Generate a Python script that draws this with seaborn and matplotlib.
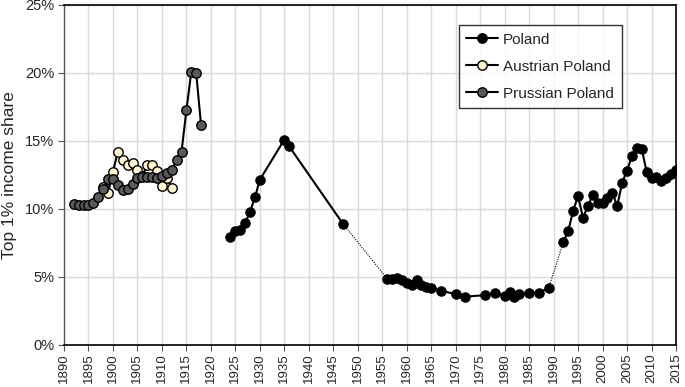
import matplotlib
matplotlib.use("Agg")
import matplotlib.pyplot as plt
import seaborn as sns
import numpy as np
import pandas as pd
from matplotlib.lines import Line2D

# Poland (solid runs; gaps 1947-1956 and 1989-1992 drawn dotted)
pol_years = [1924, 1925, 1926, 1927, 1928, 1929, 1930, 1935, 1936, 1947,
             1956, 1957, 1958, 1959, 1960, 1961, 1962, 1963, 1964, 1965,
             1967, 1970, 1972, 1976, 1978, 1980, 1981, 1982, 1983, 1985,
             1987, 1989,
             1992, 1993, 1994, 1995, 1996, 1997, 1998, 1999, 2000, 2001,
             2002, 2003, 2004, 2005, 2006, 2007, 2008, 2009, 2010, 2011,
             2012, 2013, 2014, 2015]
pol_vals = [7.96, 8.4, 8.46, 8.95, 9.8, 10.85, 12.15, 15.1, 14.6, 8.9,
            4.88, 4.88, 4.92, 4.8, 4.54, 4.42, 4.78, 4.4, 4.28, 4.22,
            3.99, 3.74, 3.56, 3.66, 3.82, 3.62, 3.92, 3.5, 3.72, 3.82,
            3.85, 4.2,
            7.58, 8.4, 9.88, 10.96, 9.35, 10.22, 11.03, 10.42, 10.42, 10.78,
            11.2, 10.22, 11.94, 12.82, 13.9, 14.46, 14.4, 12.75, 12.3, 12.38,
            12.08, 12.25, 12.55, 12.87]
pol_runs = [0] * 10 + [1] * 22 + [2] * 24

aus_years = [1898, 1899, 1900, 1901, 1902, 1903, 1904, 1905, 1906, 1907,
             1908, 1909, 1910, 1911, 1912]
aus_vals = [11.64, 11.2, 12.75, 14.2, 13.6, 13.24, 13.36, 12.87, 12.4, 13.25,
            13.25, 12.8, 11.69, 12.25, 11.57]

pru_years = list(range(1892, 1919))
pru_vals = [10.37, 10.27, 10.27, 10.32, 10.47, 10.9, 11.45, 12.18, 12.18, 11.76,
            11.4, 11.45, 11.84, 12.3, 12.35, 12.35, 12.35, 12.3, 12.43, 12.62,
            12.9, 13.6, 14.2, 17.25, 20.1, 20.0, 16.15]

pol = pd.DataFrame({"year": pol_years, "share": pol_vals, "run": pol_runs})
aus = pd.DataFrame({"year": aus_years, "share": aus_vals})
pru = pd.DataFrame({"year": pru_years, "share": pru_vals})

sns.set_style("white")
plt.rcParams["font.family"] = ["Liberation Sans", "DejaVu Sans"]

fig = plt.figure(figsize=(6.85, 3.87), dpi=100)
ax = fig.add_axes([64 / 685, 1 - 345 / 387, 612 / 685, 340 / 387])

ms = 6.8
# dotted links across the missing years
for a, b in [(1947, 1956), (1989, 1992)]:
    seg = pol[pol.year.isin([a, b])]
    sns.lineplot(data=seg, x="year", y="share", ax=ax, color="black",
                 linestyle=(0, (1, 1.2)), linewidth=0.8, legend=False)

sns.lineplot(data=pol, x="year", y="share", units="run", estimator=None, ax=ax,
             color="black", linewidth=1.5, marker="o", markersize=ms,
             markerfacecolor="black", markeredgecolor="black", legend=False)
sns.lineplot(data=aus, x="year", y="share", ax=ax, color="black", linewidth=1.5,
             marker="o", markersize=ms, markerfacecolor="#fff5d2",
             markeredgecolor="black", markeredgewidth=1.0, legend=False)
sns.lineplot(data=pru, x="year", y="share", ax=ax, color="black", linewidth=1.5,
             marker="o", markersize=ms, markerfacecolor="#595959",
             markeredgecolor="black", markeredgewidth=1.0, legend=False)

ax.set_xlim(1890, 2015)
ax.set_ylim(0, 25)
ax.set_xticks(range(1890, 2016, 5))
ax.set_xticklabels([str(y) for y in range(1890, 2016, 5)], rotation=90, fontsize=9.5)
ax.set_yticks(range(0, 26, 5))
ax.set_yticklabels([f"{v}%" for v in range(0, 26, 5)], fontsize=10.5)
ax.set_xlabel("")
ax.set_ylabel("Top 1% income share", fontsize=12.5, labelpad=6)
ax.grid(True, color="#d9d9d9", linewidth=1)
ax.set_axisbelow(True)
ax.tick_params(axis="both", direction="out", length=4, width=0.8, color="#555555",
               bottom=True, left=True)
ax.tick_params(axis="x", pad=2)
ax.tick_params(axis="y", pad=3)

for side in ["top", "right", "bottom"]:
    ax.spines[side].set_color("black")
    ax.spines[side].set_linewidth(1.2)
ax.spines["left"].set_color("#555555")
ax.spines["left"].set_linestyle((0, (1, 1)))
ax.spines["left"].set_linewidth(1.0)

handles = [
    Line2D([], [], color="black", lw=1.5, marker="o", markersize=ms,
           markerfacecolor="black", markeredgecolor="black"),
    Line2D([], [], color="black", lw=1.5, marker="o", markersize=ms,
           markerfacecolor="#fff5d2", markeredgecolor="black"),
    Line2D([], [], color="black", lw=1.5, marker="o", markersize=ms,
           markerfacecolor="#595959", markeredgecolor="black"),
]
leg = ax.legend(handles, ["Poland", "Austrian Poland", "Prussian Poland"],
                loc="upper left", bbox_to_anchor=(0.645, 0.941), fontsize=11,
                frameon=True, fancybox=False, edgecolor="black",
                handlelength=2.1, borderpad=0.5, labelspacing=0.85,
                handletextpad=0.3, borderaxespad=0)
leg.get_frame().set_linewidth(1.0)

fig.savefig("out.png", dpi=100)
